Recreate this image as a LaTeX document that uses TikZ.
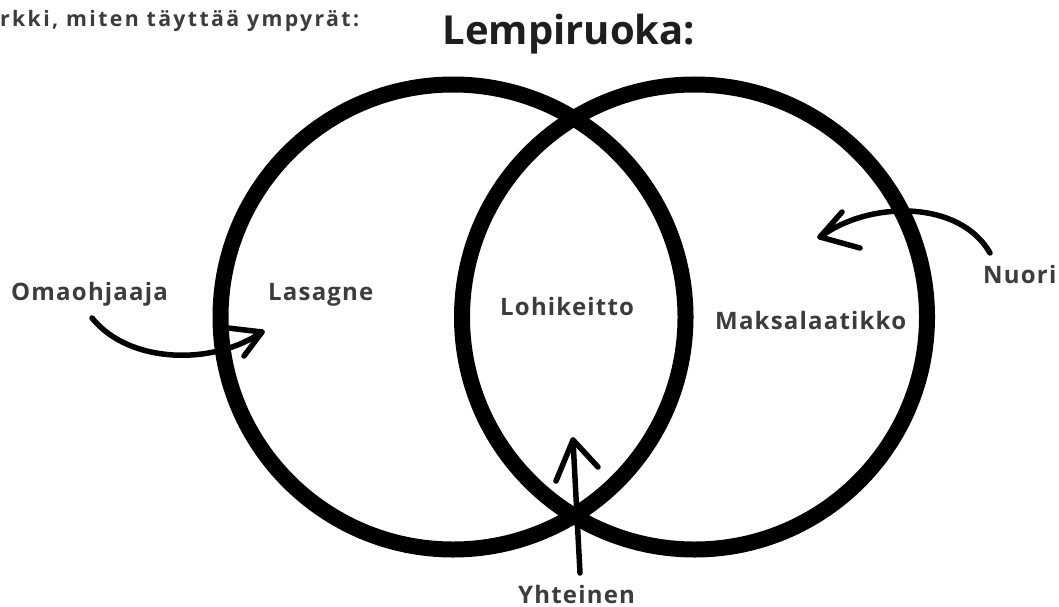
\documentclass[tikz,border=0pt]{standalone}
\usepackage{fontspec}
\setmainfont{Open Sans}
\newfontfamily\labfont{Open Sans}[LetterSpace=5]
\newfontfamily\hintfont{Open Sans}[LetterSpace=11]
\definecolor{labgray}{HTML}{3C3C3C}
\definecolor{titleblack}{HTML}{1E1E1E}
\begin{document}
\begin{tikzpicture}[x=1pt,y=-1pt,
  ring/.style={draw=black,line width=16pt},
  lab/.style={inner sep=0pt,anchor=base west,text=labgray,font=\labfont\bfseries\fontsize{24}{28}\selectfont},
  hand/.style={draw=black,line width=5.5pt,line cap=round,line join=round}]
\useasboundingbox (0,0) rectangle (1059,607);
% circles
\draw[ring] (453,317) circle[radius=232.5];
\draw[ring] (694.5,317) circle[radius=232.5];
% texts
\node[lab,font=\hintfont\bfseries\fontsize{21.3}{25}\selectfont] (hint) at (0,27) {rkki, miten täyttää ympyrät:};
\node[inner sep=0pt,anchor=base,text=titleblack,font=\bfseries\fontsize{40}{46}\selectfont] (title) at (569,45) {Lempiruoka:};
\node[lab] (oma) at (11,300) {Omaohjaaja};
\node[lab] (las) at (268,300) {Lasagne};
\node[lab] (loh) at (500,315) {Lohikeitto};
\node[lab] (mak) at (715,329) {Maksalaatikko};
\node[lab] (nuo) at (983,283) {Nuori};
\node[lab] (yht) at (518,603) {Yhteinen};
% arrow ends
\coordinate (a1s) at (92,318);
\coordinate (a1t) at (262,332);
\coordinate (a2s) at (990,253);
\coordinate (a2t) at (820,237);
\coordinate (a3s) at (580,573);
\coordinate (a3t) at (573,440);
% hand-drawn arrows
\draw[hand] (a1s) .. controls (130,365) and (215,365) .. (a1t);
\draw[hand] (228,328) -- (a1t) -- (244,356);
\draw[hand] (a2s) .. controls (960,200) and (870,200) .. (a2t);
\draw[hand] (842,212) -- (a2t) -- (860,248);
\draw[hand] (a3s) -- (a3t);
\draw[hand] (556,481) -- (a3t) -- (598,467);
\end{tikzpicture}
\end{document}
